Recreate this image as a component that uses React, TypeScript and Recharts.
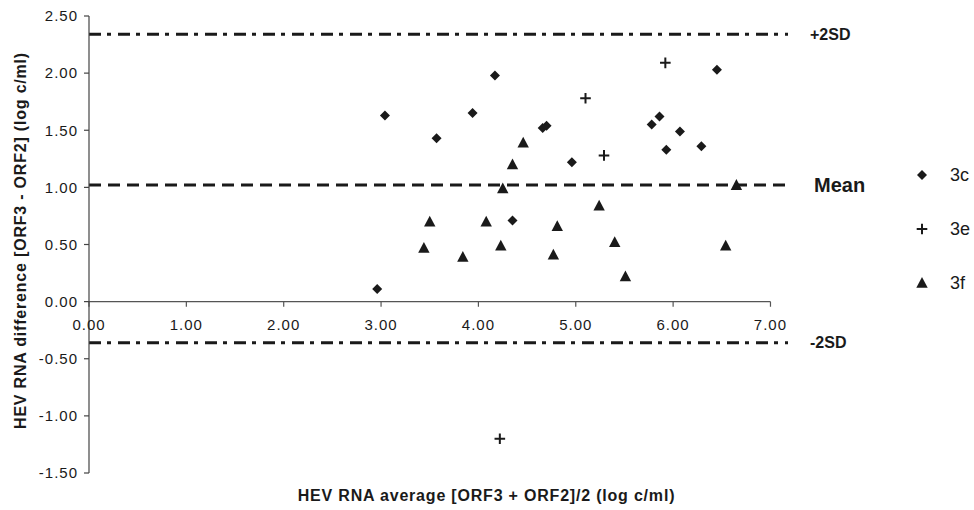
import React from 'react';
import {
  ScatterChart,
  Scatter,
  XAxis,
  YAxis,
  ReferenceLine,
  Legend,
} from 'recharts';

// Genotype 3c
const x3c = [2.96, 3.04, 3.57, 3.94, 4.17, 4.35, 4.66, 4.7, 4.96, 5.78, 5.86, 5.93, 6.07, 6.29, 6.45];
const y3c = [0.11, 1.63, 1.43, 1.65, 1.98, 0.71, 1.52, 1.54, 1.22, 1.55, 1.62, 1.33, 1.49, 1.36, 2.03];
// Genotype 3e
const x3e = [4.22, 5.1, 5.29, 5.92];
const y3e = [-1.2, 1.78, 1.28, 2.09];
// Genotype 3f
const x3f = [3.44, 3.5, 3.84, 4.08, 4.23, 4.25, 4.35, 4.46, 4.77, 4.81, 5.24, 5.4, 5.51, 6.54, 6.65];
const y3f = [0.47, 0.7, 0.39, 0.7, 0.49, 0.99, 1.2, 1.39, 0.41, 0.66, 0.84, 0.52, 0.22, 0.49, 1.02];

const xTicks = [0, 1, 2, 3, 4, 5, 6, 7];
const yTicks = [-1.5, -1, -0.5, 0, 0.5, 1, 1.5, 2, 2.5];

const MEAN = 1.02;
const PLUS_2SD = 2.34;
const MINUS_2SD = -0.36;

const FONT = '"Liberation Sans", Arial, Helvetica, sans-serif';
const INK = '#1a1a1a';

const zip = (xs: number[], ys: number[]) => xs.map((x, i) => ({ x, y: ys[i] }));

const data3c = zip(x3c, y3c);
const data3e = zip(x3e, y3e);
const data3f = zip(x3f, y3f);

const drawDiamond = (cx: number, cy: number) => (
  <polygon
    points={`${cx},${cy - 5} ${cx + 5},${cy} ${cx},${cy + 5} ${cx - 5},${cy}`}
    fill={INK}
  />
);

const drawPlus = (cx: number, cy: number) => (
  <path
    d={`M${cx - 5.3},${cy}H${cx + 5.3}M${cx},${cy - 5.3}V${cy + 5.3}`}
    stroke={INK}
    strokeWidth={2}
    fill="none"
  />
);

const drawTriangle = (cx: number, cy: number) => (
  <polygon
    points={`${cx},${cy - 6} ${cx + 5.7},${cy + 4.8} ${cx - 5.7},${cy + 4.8}`}
    fill={INK}
  />
);

const SHAPES: Record<string, (cx: number, cy: number) => React.ReactElement> = {
  '3c': drawDiamond,
  '3e': drawPlus,
  '3f': drawTriangle,
};

const renderLegend = ({ payload }: any) => (
  <div style={{ display: 'flex', flexDirection: 'column', fontFamily: FONT }}>
    {(payload || []).map((entry: any) => (
      <div key={entry.value} style={{ height: 54, display: 'flex', alignItems: 'center' }}>
        <svg width={20} height={20}>
          {SHAPES[entry.value](10, 10)}
        </svg>
        <span style={{ marginLeft: 18, fontSize: 18, color: INK }}>{entry.value}</span>
      </div>
    ))}
  </div>
);

const sdLabel = (value: string, size: number, offset: number) => ({
  value,
  position: 'right' as const,
  offset,
  fill: INK,
  fontSize: size,
  fontWeight: 'bold',
  fontFamily: FONT,
});

export default function App() {
  return (
    <div style={{ position: 'absolute', left: 0, top: 0, width: 974, height: 510, background: '#fff' }}>
      <ScatterChart
        width={974}
        height={510}
        margin={{ top: 16, right: 186, left: 0, bottom: 0 }}
      >
        <XAxis
          type="number"
          dataKey="x"
          domain={[0, 7.18]}
          axisLine={false}
          tickLine={false}
          tick={false}
          height={37}
          label={{
            value: 'HEV RNA average [ORF3 + ORF2]/2 (log c/ml)',
            position: 'insideBottom',
            offset: 9,
            dx: 48,
            fill: INK,
            fontSize: 16,
            fontWeight: 'bold',
            fontFamily: FONT,
            letterSpacing: 0.8,
          }}
        />
        <YAxis
          type="number"
          dataKey="y"
          domain={[-1.5, 2.5]}
          ticks={yTicks}
          interval={0}
          width={89}
          tickFormatter={(v: number) => v.toFixed(2)}
          tick={{ fill: INK, fontSize: 15, fontFamily: FONT, letterSpacing: 1 }}
          tickSize={5}
          tickMargin={6}
          axisLine={{ stroke: '#444', strokeWidth: 1.2 }}
          tickLine={{ stroke: '#444', strokeWidth: 1.2 }}
          label={{
            value: 'HEV RNA difference [ORF3 - ORF2] (log c/ml)',
            angle: -90,
            position: 'insideLeft',
            offset: 20,
            dy: -4,
            style: { textAnchor: 'middle' },
            fill: INK,
            fontSize: 16,
            fontWeight: 'bold',
            fontFamily: FONT,
            letterSpacing: 0.8,
          }}
        />

        {/* x axis drawn through y = 0 */}
        <ReferenceLine
          segment={[{ x: 0, y: 0 }, { x: 7, y: 0 }]}
          stroke="#555"
          strokeWidth={1.2}
        />
        {xTicks.map((t) => (
          <ReferenceLine
            key={`xt-${t}`}
            segment={[{ x: t, y: 0 }, { x: t, y: -0.045 }]}
            stroke="#555"
            strokeWidth={1.2}
            label={{
              value: t.toFixed(2),
              position: 'bottom',
              offset: 13,
              fill: INK,
              fontSize: 15,
              fontFamily: FONT,
              letterSpacing: 1,
            }}
          />
        ))}

        <ReferenceLine
          y={PLUS_2SD}
          stroke={INK}
          strokeWidth={3}
          strokeDasharray="12 6 4 7"
          label={sdLabel('+2SD', 16, 22)}
        />
        <ReferenceLine
          y={MEAN}
          stroke={INK}
          strokeWidth={3}
          strokeDasharray="12 7"
          label={sdLabel('Mean', 20, 26)}
        />
        <ReferenceLine
          y={MINUS_2SD}
          stroke={INK}
          strokeWidth={3}
          strokeDasharray="12 6 4 7"
          label={sdLabel('-2SD', 16, 22)}
        />

        <Scatter
          name="3c"
          data={data3c}
          fill={INK}
          isAnimationActive={false}
          shape={(p: any) => drawDiamond(p.cx, p.cy)}
        />
        <Scatter
          name="3e"
          data={data3e}
          fill={INK}
          isAnimationActive={false}
          shape={(p: any) => drawPlus(p.cx, p.cy)}
        />
        <Scatter
          name="3f"
          data={data3f}
          fill={INK}
          isAnimationActive={false}
          shape={(p: any) => drawTriangle(p.cx, p.cy)}
        />

        {/* centre/middle so the legend takes no room from the plot */}
        <Legend
          layout="vertical"
          align="center"
          verticalAlign="middle"
          content={renderLegend}
          wrapperStyle={{ left: 912, top: 148, width: 'auto' }}
        />
      </ScatterChart>
    </div>
  );
}
